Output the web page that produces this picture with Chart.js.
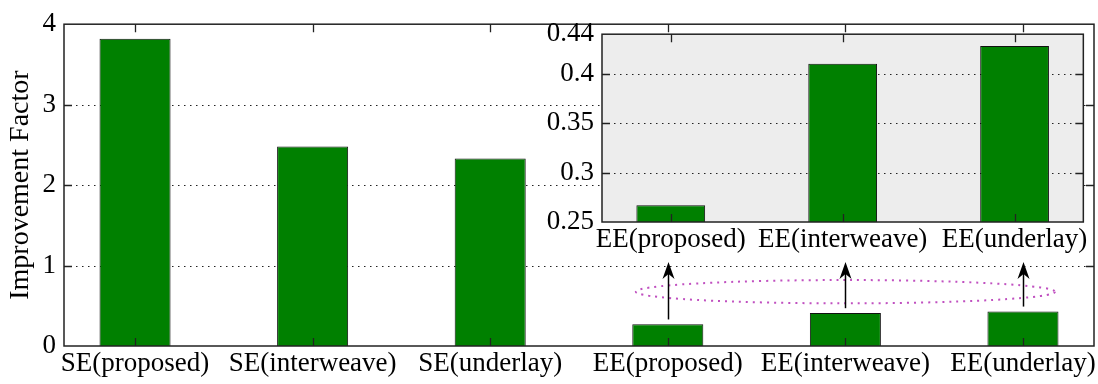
<!DOCTYPE html>
<html>
<head>
<meta charset="utf-8">
<script src="https://cdn.jsdelivr.net/npm/chart.js@4.4.0/dist/chart.umd.min.js"></script>
<style>
  body { margin: 0; background: #fff; }
  #wrap { position: relative; width: 1098px; height: 384px; }
  #mainCanvas { position: absolute; left: 0; top: 0; }
  #insetCanvas { position: absolute; left: 520px; top: 10px; }
</style>
</head>
<body>
<div id="wrap">
  <canvas id="mainCanvas" width="1098" height="384"></canvas>
  <canvas id="insetCanvas" width="570" height="250"></canvas>
</div>
<script>
// main chart data
const mainLabels = ["SE(proposed)", "SE(interweave)", "SE(underlay)", "EE(proposed)", "EE(interweave)", "EE(underlay)"];
const mainValues = [3.82, 2.48, 2.33, 0.27, 0.41, 0.43];
const mainYTicks = [0, 1, 2, 3, 4];

// inset (zoom on the EE bars)
const insetLabels = ["EE(proposed)", "EE(interweave)", "EE(underlay)"];
const insetValues = [0.267, 0.410, 0.428];
const insetYTicks = [0.25, 0.3, 0.35, 0.4, 0.44];

// annotation: dotted ellipse round the EE bars and arrows up to the inset labels
const ellipseX = [3.82, 6.18];
const ellipseY = [0.53, 0.82];
const arrowFrom = [0.33, 0.47, 0.49];
const arrowTo = 1.02;

const FONT = "'Liberation Serif', 'Times New Roman', serif";
const GREEN = "#008000";

// box, dotted grid and inward ticks like a matlab axes
function axesBox(bg) {
  return {
    id: "axesBox",
    beforeDraw(chart) {
      if (!bg) return;
      const a = chart.chartArea, ctx = chart.ctx;
      ctx.save();
      ctx.fillStyle = bg;
      ctx.fillRect(a.left, a.top, a.right - a.left, a.bottom - a.top);
      ctx.restore();
    },
    beforeDatasetsDraw(chart) {
      const a = chart.chartArea, ctx = chart.ctx, y = chart.scales.y;
      ctx.save();
      ctx.strokeStyle = "#222";
      ctx.lineWidth = 1;
      ctx.setLineDash([1.5, 4.5]);
      y.ticks.forEach(t => {
        if (t.value <= y.min || t.value >= y.max) return;
        const py = Math.round(y.getPixelForValue(t.value)) + 0.5;
        ctx.beginPath();
        ctx.moveTo(a.left, py);
        ctx.lineTo(a.right, py);
        ctx.stroke();
      });
      ctx.restore();
    },
    afterDatasetsDraw(chart) {
      const a = chart.chartArea, ctx = chart.ctx;
      const x = chart.scales.x, y = chart.scales.y;
      const len = 8;
      ctx.save();
      ctx.strokeStyle = "#222";
      ctx.lineWidth = 1.3;
      ctx.beginPath();
      x.ticks.forEach(t => {
        const px = Math.round(x.getPixelForValue(t.value)) + 0.5;
        ctx.moveTo(px, a.top); ctx.lineTo(px, a.top + len);
        ctx.moveTo(px, a.bottom); ctx.lineTo(px, a.bottom - len);
      });
      y.ticks.forEach(t => {
        if (t.value <= y.min || t.value >= y.max) return;
        const py = Math.round(y.getPixelForValue(t.value)) + 0.5;
        ctx.moveTo(a.left, py); ctx.lineTo(a.left + len, py);
        ctx.moveTo(a.right, py); ctx.lineTo(a.right - len, py);
      });
      ctx.stroke();
      ctx.lineWidth = 1.5;
      ctx.strokeRect(a.left, a.top, a.right - a.left, a.bottom - a.top);
      ctx.restore();
    }
  };
}

// ellipse and arrows in the main chart
const annotate = {
  id: "annotate",
  afterDatasetsDraw(chart) {
    const ctx = chart.ctx, x = chart.scales.x, y = chart.scales.y;
    const x0 = x.getPixelForValue(ellipseX[0]), x1 = x.getPixelForValue(ellipseX[1]);
    const y0 = y.getPixelForValue(ellipseY[0]), y1 = y.getPixelForValue(ellipseY[1]);
    ctx.save();
    ctx.strokeStyle = "#c050c0";
    ctx.lineWidth = 2;
    ctx.setLineDash([2, 5]);
    ctx.beginPath();
    ctx.ellipse((x0 + x1) / 2, (y0 + y1) / 2, (x1 - x0) / 2, Math.abs(y0 - y1) / 2, 0, 0, Math.PI * 2);
    ctx.stroke();
    ctx.setLineDash([]);
    ctx.strokeStyle = "#000";
    ctx.fillStyle = "#000";
    ctx.lineWidth = 1.5;
    arrowFrom.forEach((v, i) => {
      const px = Math.round(x.getPixelForValue(i + 4)) + 0.5;
      const yb = y.getPixelForValue(v), yt = y.getPixelForValue(arrowTo) - 2;
      ctx.beginPath();
      ctx.moveTo(px, yb);
      ctx.lineTo(px, yt + 10);
      ctx.stroke();
      ctx.beginPath();
      ctx.moveTo(px, yt);
      ctx.lineTo(px - 6, yt + 17);
      ctx.lineTo(px, yt + 12);
      ctx.lineTo(px + 6, yt + 17);
      ctx.closePath();
      ctx.fill();
    });
    ctx.restore();
  }
};

new Chart(document.getElementById("mainCanvas"), {
  type: "bar",
  data: {
    datasets: [{
      data: mainValues.map((v, i) => ({ x: i + 1, y: v })),
      backgroundColor: GREEN,
      borderColor: "#111",
      borderWidth: 1,
      barPercentage: 0.4,
      categoryPercentage: 1
    }]
  },
  options: {
    responsive: false,
    animation: false,
    layout: { padding: { top: 18, right: 4, bottom: 0, left: 0 } },
    plugins: { legend: { display: false }, tooltip: { enabled: false } },
    scales: {
      x: {
        type: "linear",
        offset: false,
        min: 0.6,
        max: 6.4,
        grid: { display: false, drawTicks: false, offset: false },
        border: { display: false },
        afterBuildTicks: s => { s.ticks = mainLabels.map((l, i) => ({ value: i + 1 })); },
        afterFit: s => { s.height = 38; },
        ticks: {
          autoSkip: false,
          maxRotation: 0,
          padding: 2,
          color: "#000",
          font: { family: FONT, size: 27 },
          callback: v => mainLabels[Math.round(v) - 1]
        }
      },
      y: {
        min: 0,
        max: 4,
        grid: { display: false, drawTicks: false },
        border: { display: false },
        afterBuildTicks: s => { s.ticks = mainYTicks.map(v => ({ value: v })); },
        afterFit: s => { s.width = 64; },
        ticks: { padding: 8, color: "#000", font: { family: FONT, size: 27 }, callback: v => String(v) },
        title: {
          display: true,
          text: "Improvement Factor",
          color: "#000",
          font: { family: FONT, size: 28 },
          padding: { top: 4, bottom: 0 }
        }
      }
    }
  },
  plugins: [axesBox(null), annotate]
});

new Chart(document.getElementById("insetCanvas"), {
  type: "bar",
  data: {
    datasets: [{
      data: insetValues.map((v, i) => ({ x: i + 1, y: v })),
      backgroundColor: GREEN,
      borderColor: "#111",
      borderWidth: 1,
      barPercentage: 0.4,
      categoryPercentage: 1
    }]
  },
  options: {
    responsive: false,
    animation: false,
    layout: { padding: { top: 23, right: 5, bottom: 0, left: 0 } },
    plugins: { legend: { display: false }, tooltip: { enabled: false } },
    scales: {
      x: {
        type: "linear",
        offset: false,
        min: 0.6,
        max: 3.4,
        grid: { display: false, drawTicks: false, offset: false },
        border: { display: false },
        afterBuildTicks: s => { s.ticks = insetLabels.map((l, i) => ({ value: i + 1 })); },
        afterFit: s => { s.height = 38; },
        ticks: {
          autoSkip: false,
          maxRotation: 0,
          padding: 2,
          color: "#000",
          font: { family: FONT, size: 27 },
          callback: v => insetLabels[Math.round(v) - 1]
        }
      },
      y: {
        min: 0.25,
        max: 0.44,
        grid: { display: false, drawTicks: false },
        border: { display: false },
        afterBuildTicks: s => { s.ticks = insetYTicks.map(v => ({ value: v })); },
        afterFit: s => { s.width = 82; },
        ticks: { padding: 8, color: "#000", font: { family: FONT, size: 27 }, callback: v => String(v) }
      }
    }
  },
  plugins: [axesBox("#ededed")]
});
</script>
</body>
</html>
